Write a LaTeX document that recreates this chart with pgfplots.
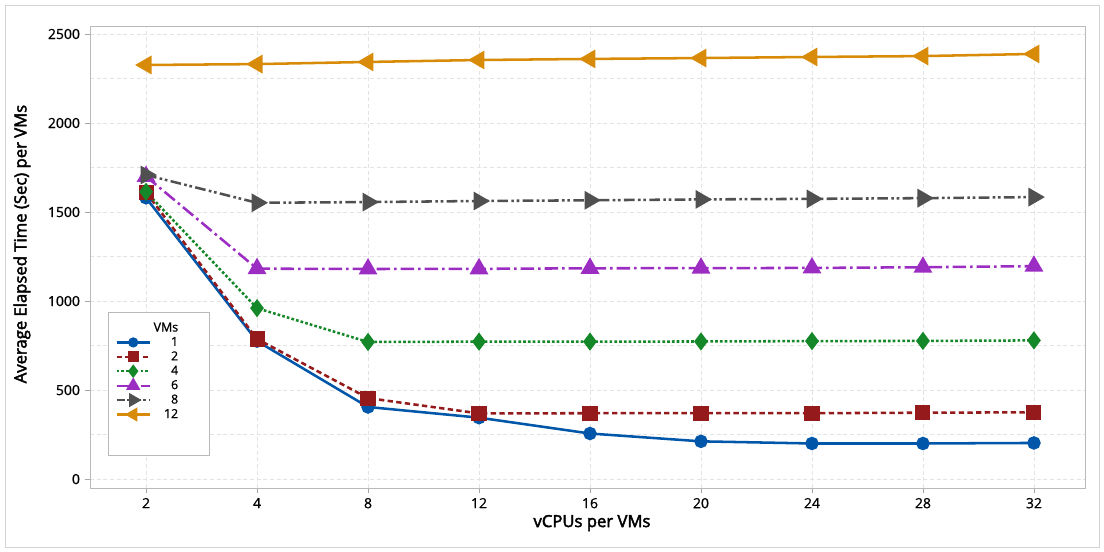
\documentclass[border=0pt]{standalone}
\usepackage{fontspec}
\setmainfont{Open Sans}
\newfontfamily\sbfont{Open Sans}[FakeBold=2.6]
\newfontfamily\mdfont{Open Sans}[FakeBold=0.9]
\usepackage{pgfplots}
\pgfplotsset{compat=1.18}
\definecolor{cblue}{RGB}{0,86,168}
\definecolor{cred}{RGB}{148,26,28}
\definecolor{cgreen}{RGB}{20,135,40}
\definecolor{cpurple}{RGB}{155,45,195}
\definecolor{cgray}{RGB}{80,80,80}
\definecolor{corange}{RGB}{216,139,8}
\begin{document}
\begin{tikzpicture}
\useasboundingbox (-67.5pt,-48pt) rectangle (760.5pt,366pt);
\draw[gray!35] (-63.75pt,-44.25pt) rectangle (756.75pt,362.25pt);
\begin{axis}[
  scale only axis, width=746.25pt, height=346.5pt,
  xmin=-0.505, xmax=8.46, ymin=-50, ymax=2545,
  xtick={0,...,8}, xticklabels={2,4,8,12,16,20,24,28,32},
  ytick={0,500,...,2500}, minor ytick={250,750,...,2250},
  grid=both,
  major grid style={densely dashed, gray!22},
  minor grid style={densely dashed, gray!22},
  axis line style={gray!55},
  tick style={gray!70},
  tick align=outside, tick pos=left,
  major tick length=4pt, minor tick length=0pt,
  /pgf/number format/assume math mode=true,
  /pgf/number format/1000 sep={},
  ticklabel style={font=\mdfont\fontsize{10.5}{12}\selectfont, text=black},
  xlabel={vCPUs per VMs},
  ylabel={Average Elapsed Time (Sec) per VMs},
  every axis x label/.style={at={(axis description cs:0.5045,-0.0758)}, anchor=center, font=\sbfont\fontsize{12.5}{14}\selectfont},
  every axis y label/.style={at={(axis description cs:-0.0683,0.528)}, rotate=90, anchor=center, font=\sbfont\fontsize{12.5}{14}\selectfont},
  legend style={at={(rel axis cs:0.024,0.365)}, anchor=north west, draw=none, fill=none,
    font=\mdfont\fontsize{9.3}{10}\selectfont, row sep=0pt, inner sep=1pt,
    nodes={inner ysep=1.3pt}},
  legend cell align=right,
  legend image code/.code={\draw[mark repeat=2,mark phase=2,#1] plot coordinates {(0cm,0cm)(0.44cm,0cm)(0.88cm,0cm)};},
  every axis plot/.append style={line width=1.9pt},
]
\addplot[cblue, mark=*, mark size=4.1pt, mark options={solid}, forget plot] coordinates {
(0,1580)(1,775)(2,405)(3,345)(4,256)(5,212)(6,200)(7,200)(8,203)};
\addplot[cred, dash pattern=on 4pt off 2.5pt, mark=square*, mark size=4.7pt, mark options={solid}, forget plot] coordinates {
(0,1610)(1,787)(2,455)(3,369)(4,370)(5,370)(6,370)(7,373)(8,375)};
\addplot[cgreen, dash pattern=on 2pt off 1.6pt, mark=diamond*, mark size=5.3pt, mark options={solid}, forget plot] coordinates {
(0,1614)(1,960)(2,770)(3,772)(4,772)(5,773)(6,775)(7,776)(8,779)};
\addplot[cpurple, dash pattern=on 10pt off 3pt on 2pt off 3pt, mark=triangle*, mark size=6.3pt, mark options={solid}, forget plot] coordinates {
(0,1700)(1,1182)(2,1180)(3,1181)(4,1184)(5,1185)(6,1186)(7,1190)(8,1196)};
\addplot[cgray, dash pattern=on 8pt off 2.5pt on 2pt off 2pt on 2pt off 2.5pt, mark=triangle*, mark size=6.3pt, mark options={solid, rotate=-90}, forget plot] coordinates {
(0,1708)(1,1552)(2,1556)(3,1562)(4,1566)(5,1571)(6,1574)(7,1578)(8,1584)};
\addplot[corange, mark=triangle*, mark size=6.3pt, mark options={solid, rotate=90}, forget plot] coordinates {
(0,2326)(1,2331)(2,2343)(3,2354)(4,2360)(5,2365)(6,2371)(7,2376)(8,2388)};
\draw[gray!55, fill=white, line width=0.6pt] (rel axis cs:0.0181,0.381) rectangle (rel axis cs:0.1196,0.0714);
\addlegendimage{empty legend}\addlegendentry{VMs}
\addlegendimage{cblue, line width=1.6pt, mark=*, mark size=3pt, mark options={solid}}\addlegendentry{1}
\addlegendimage{cred, line width=1.6pt, dash pattern=on 4pt off 2.5pt, mark=square*, mark size=3.3pt, mark options={solid}}\addlegendentry{2}
\addlegendimage{cgreen, line width=1.6pt, dash pattern=on 2pt off 1.6pt, mark=diamond*, mark size=3.8pt, mark options={solid}}\addlegendentry{4}
\addlegendimage{cpurple, line width=1.6pt, dash pattern=on 10pt off 3pt on 2pt off 3pt, mark=triangle*, mark size=4.6pt, mark options={solid}}\addlegendentry{6}
\addlegendimage{cgray, line width=1.6pt, dash pattern=on 6pt off 2pt on 2pt off 2pt, mark=triangle*, mark size=4.6pt, mark options={solid, rotate=-90}}\addlegendentry{8}
\addlegendimage{corange, line width=1.6pt, mark=triangle*, mark size=4.6pt, mark options={solid, rotate=90}}\addlegendentry{12}
\end{axis}
\end{tikzpicture}
\end{document}
